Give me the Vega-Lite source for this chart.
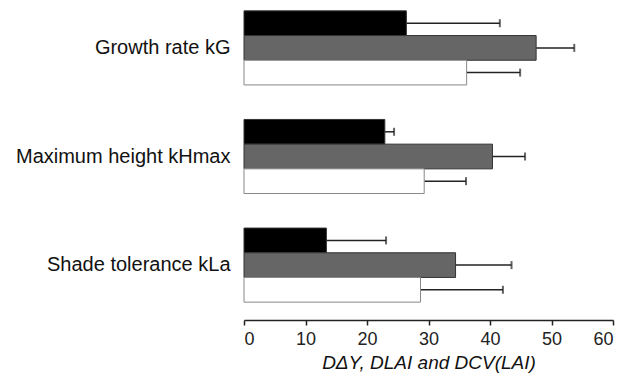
{
  "$schema": "https://vega.github.io/schema/vega-lite/v6.json",
  "width": 369,
  "height": 313,
  "autosize": {"type": "none"},
  "padding": {"left": 244, "top": 0, "right": 13, "bottom": 76},
  "background": "white",
  "config": {"view": {"stroke": null}, "font": "Liberation Sans"},
  "data": {"values": [
    {"trait": "Growth rate kG", "series": "a", "value": 26.4, "hi": 41.6},
    {"trait": "Growth rate kG", "series": "b", "value": 47.5, "hi": 53.7},
    {"trait": "Growth rate kG", "series": "c", "value": 36.2, "hi": 44.9},
    {"trait": "Maximum height kHmax", "series": "a", "value": 22.9, "hi": 24.4},
    {"trait": "Maximum height kHmax", "series": "b", "value": 40.4, "hi": 45.7},
    {"trait": "Maximum height kHmax", "series": "c", "value": 29.3, "hi": 36.1},
    {"trait": "Shade tolerance kLa", "series": "a", "value": 13.4, "hi": 23.1},
    {"trait": "Shade tolerance kLa", "series": "b", "value": 34.4, "hi": 43.5},
    {"trait": "Shade tolerance kLa", "series": "c", "value": 28.7, "hi": 42.1}
  ]},
  "encoding": {
    "y": {
      "field": "trait", "type": "nominal",
      "sort": ["Growth rate kG", "Maximum height kHmax", "Shade tolerance kLa"],
      "scale": {"paddingInner": 0.318, "paddingOuter": 0.1},
      "axis": {"title": null, "domain": false, "ticks": false, "labelFontSize": 20, "labelColor": "#111", "labelPadding": 14, "labelLimit": 300}
    },
    "yOffset": {"field": "series", "type": "nominal", "sort": ["a", "b", "c"], "scale": {"paddingInner": 0, "paddingOuter": 0}}
  },
  "layer": [
    {
      "mark": {"type": "rule", "stroke": "#222", "strokeWidth": 1.5},
      "encoding": {
        "x": {"field": "value", "type": "quantitative"},
        "x2": {"field": "hi"}
      }
    },
    {
      "mark": {"type": "tick", "color": "#222", "thickness": 2, "size": 8},
      "encoding": {
        "x": {"field": "hi", "type": "quantitative"}
      }
    },
    {
      "mark": {"type": "bar", "strokeWidth": 1},
      "encoding": {
        "x": {
          "field": "value", "type": "quantitative",
          "scale": {"domain": [0, 60], "nice": false},
          "axis": {
            "values": [0, 10, 20, 30, 40, 50, 60], "offset": 7, "grid": false,
            "domainColor": "#222", "domainWidth": 1.5, "tickColor": "#222", "tickWidth": 1.5, "tickSize": 5,
            "labelFontSize": 18, "labelColor": "#222", "labelPadding": 5,
            "title": "DΔY, DLAI and DCV(LAI)", "titleFontSize": 19, "titleFontWeight": "normal", "titleFontStyle": "italic", "titleColor": "#111", "titlePadding": 5
          }
        },
        "fill": {"field": "series", "type": "nominal", "scale": {"domain": ["a", "b", "c"], "range": ["#000000", "#666666", "#ffffff"]}, "legend": null},
        "stroke": {"field": "series", "type": "nominal", "scale": {"domain": ["a", "b", "c"], "range": ["#333333", "#333333", "#888888"]}, "legend": null}
      }
    }
  ]
}
